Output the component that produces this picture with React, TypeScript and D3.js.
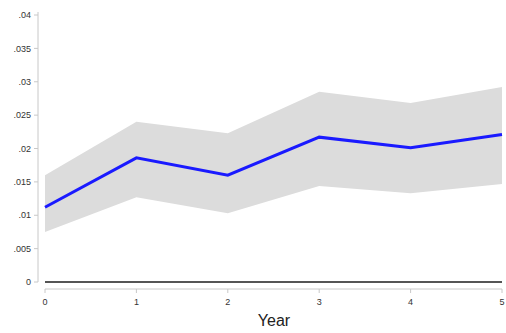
import React from 'react';
import * as d3 from 'd3';

const years = [0, 1, 2, 3, 4, 5];
const estimate = [0.0112, 0.0186, 0.016, 0.0217, 0.0201, 0.0221];
const upper = [0.016, 0.024, 0.0223, 0.0285, 0.0268, 0.0292];
const lower = [0.0075, 0.0127, 0.0103, 0.0144, 0.0133, 0.0147];
const yTicks = [0, 0.005, 0.01, 0.015, 0.02, 0.025, 0.03, 0.035, 0.04];
const yTickLabels = ['0', '.005', '.01', '.015', '.02', '.025', '.03', '.035', '.04'];

const W = 506;
const H = 333;

const App = () => {
  const x = d3.scaleLinear().domain([0, 5]).range([45, 502]);
  const y = d3.scaleLinear().domain([0, 0.04]).range([282, 15]);

  const rows = years.map((yr, i) => ({ yr, est: estimate[i], hi: upper[i], lo: lower[i] }));

  const band = d3
    .area<any>()
    .x((d) => x(d.yr))
    .y0((d) => y(d.lo))
    .y1((d) => y(d.hi));
  const line = d3
    .line<any>()
    .x((d) => x(d.yr))
    .y((d) => y(d.est));

  const font = 'Helvetica, Arial, "Liberation Sans", sans-serif';

  return (
    <svg
      width={W}
      height={H}
      style={{ position: 'absolute', left: 0, top: 0, background: '#fff' }}
      fontFamily={font}
    >
      {/* y axis */}
      <line x1={38} x2={38} y1={y(0.04) - 3} y2={y(0)} stroke="#c8c8c8" strokeWidth={1} />
      {yTicks.map((t, i) => (
        <g key={t}>
          <line x1={34} x2={38} y1={y(t)} y2={y(t)} stroke="#c8c8c8" />
          <text x={31} y={y(t)} dy="0.35em" textAnchor="end" fontSize={9} fill="#333">
            {yTickLabels[i]}
          </text>
        </g>
      ))}

      {/* x axis */}
      <line x1={x(0)} x2={x(5)} y1={289} y2={289} stroke="#c8c8c8" />
      {years.map((t) => (
        <g key={t}>
          <line x1={x(t)} x2={x(t)} y1={289} y2={293} stroke="#c8c8c8" />
          <text x={x(t)} y={302} dy="0.35em" textAnchor="middle" fontSize={9} fill="#333">
            {t}
          </text>
        </g>
      ))}
      <text x={274} y={320} dy="0.35em" textAnchor="middle" fontSize={16} fill="#222">
        Year
      </text>

      {/* confidence band */}
      <path d={band(rows) ?? ''} fill="#dcdcdc" />

      {/* zero line */}
      <line x1={x(0)} x2={x(5)} y1={y(0)} y2={y(0)} stroke="#555" strokeWidth={2} />

      {/* estimate */}
      <path d={line(rows) ?? ''} fill="none" stroke="#1a1aff" strokeWidth={3} />
    </svg>
  );
};

export default App;
